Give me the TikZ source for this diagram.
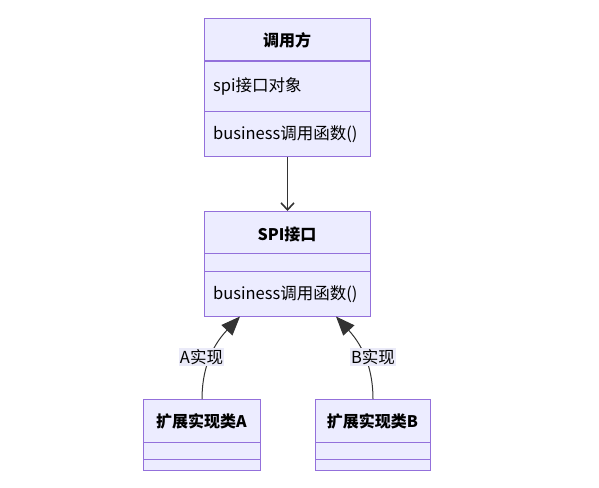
\documentclass[tikz,border=0pt]{standalone}
\usepackage{fontspec}
\setmainfont{Noto Sans CJK SC}
\usetikzlibrary{arrows.meta}
\definecolor{boxfill}{HTML}{ECECFF}
\definecolor{boxline}{HTML}{9370DB}
\definecolor{ink}{HTML}{333333}
\definecolor{lblbg}{HTML}{EAEAF8}
\begin{document}
\begin{tikzpicture}[x=1pt,y=-1pt,
  cls/.style={draw=boxline, fill=boxfill, line width=1pt, inner sep=0pt, anchor=north west},
  divider/.style={draw=boxline, line width=1pt},
  title/.style={font=\fontsize{16}{19}\selectfont\bfseries, text=black, inner sep=0pt},
  member/.style={font=\fontsize{16.5}{19}\selectfont, text=black, inner sep=0pt, anchor=west},
  conn/.style={draw=ink, line width=1pt},
  lbl/.style={font=\fontsize{16.5}{19}\selectfont, text=black, fill=lblbg, inner sep=1pt}
]
\useasboundingbox (0,0) rectangle (599,487);

% caller class
\node[cls, minimum width=166pt, minimum height=138pt] (caller) at (204,18) {};
\draw[divider] (204,61) -- (370,61);
\draw[divider] (204,111) -- (370,111);
\node[title] (callerT) at (287,40) {调用方};
\node[member] (callerA) at (213,86) {spi接口对象};
\node[member] (callerM) at (213,134) {business调用函数()};

% SPI interface
\node[cls, minimum width=166pt, minimum height=105pt] (spi) at (204,211) {};
\draw[divider] (204,253) -- (370,253);
\draw[divider] (204,271) -- (370,271);
\node[title] (spiT) at (287,234) {SPI接口};
\node[member] (spiM) at (213,294) {business调用函数()};

% implementations
\node[cls, minimum width=117pt, minimum height=71pt] (implA) at (143,399) {};
\draw[divider] (143,442) -- (260,442);
\draw[divider] (143,459) -- (260,459);
\node[title] (implAT) at (201.5,421) {扩展实现类A};

\node[cls, minimum width=115pt, minimum height=71pt] (implB) at (315,399) {};
\draw[divider] (315,442) -- (430,442);
\draw[divider] (315,459) -- (430,459);
\node[title] (implBT) at (372.5,421) {扩展实现类B};

% connectors
\draw[conn, -{Straight Barb[length=7pt,width=13pt,line width=1.6pt]}] (caller.south) -- (spi.north);

\coordinate (tipA) at (240,316.5);
\coordinate (tipB) at (336,316.5);
\draw[conn, -{Triangle[length=19pt,width=15pt]}] (202,399) .. controls (202,372) and (210,348) .. (tipA);
\draw[conn, -{Triangle[length=19pt,width=15pt]}] (373,399) .. controls (373,372) and (365,348) .. (tipB);
\node[lbl] (lblA) at (201.5,357) {A实现};
\node[lbl] (lblB) at (373,357) {B实现};
\end{tikzpicture}
\end{document}
